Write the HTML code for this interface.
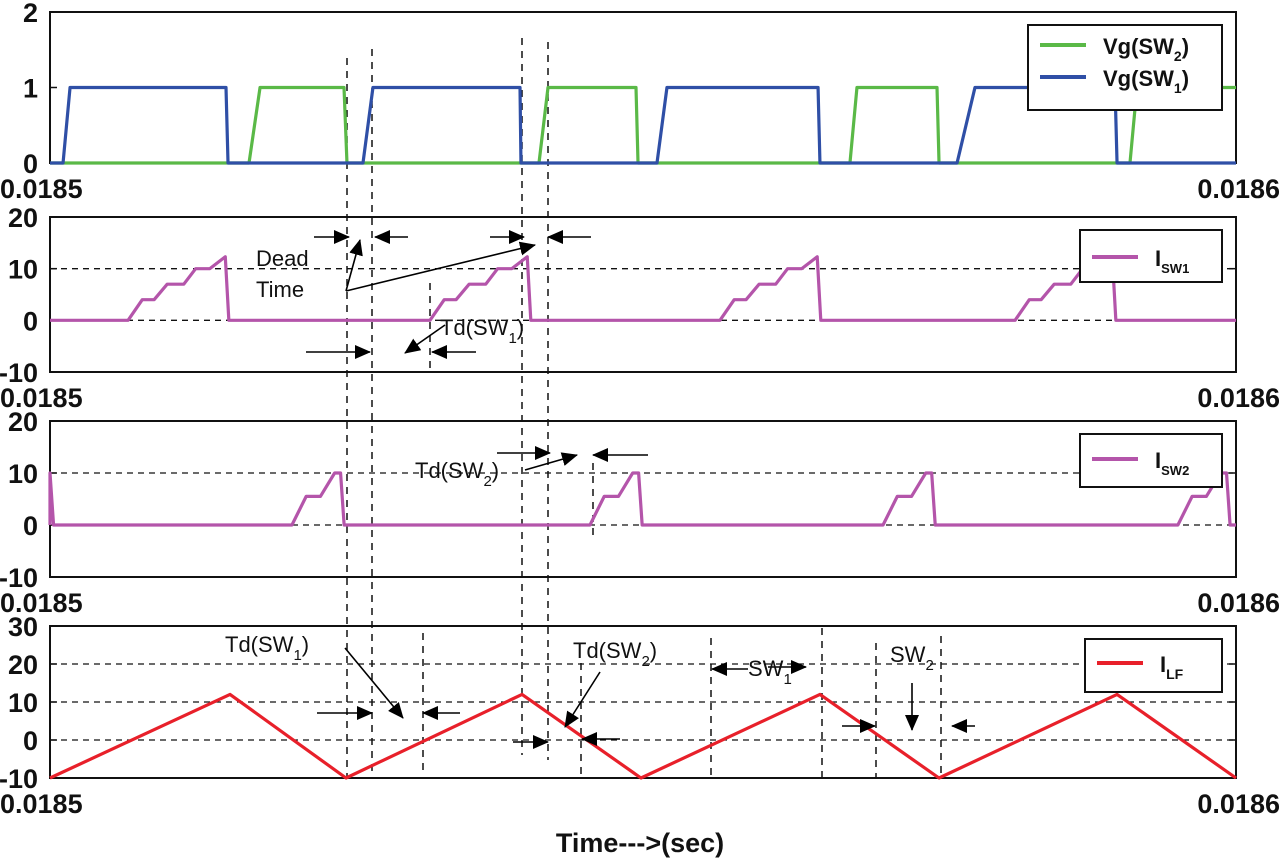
<!DOCTYPE html>
<html><head><meta charset="utf-8"><style>
html,body{margin:0;padding:0;background:#fff;width:1280px;height:862px;overflow:hidden}
svg text{font-family:"Liberation Sans",sans-serif}
.tk{font-size:27px;font-weight:bold;fill:#111}
.an{font-size:22px;fill:#111}
</style></head><body>
<svg id="chart" width="1280" height="862" viewBox="0 0 1280 862" xmlns="http://www.w3.org/2000/svg">
<defs><marker id="ah" markerWidth="8" markerHeight="8" refX="7" refY="4" orient="auto" markerUnits="userSpaceOnUse"><path d="M0,0 L8,4 L0,8 Z" fill="#000"/></marker>
<marker id="ab" markerWidth="16" markerHeight="14" refX="15" refY="7" orient="auto" markerUnits="userSpaceOnUse"><path d="M0,0 L16,7 L0,14 Z" fill="#000"/></marker></defs>
<g id="layer"></g>
</svg>
<script>
// time in microseconds offset from 0.0185 s (0..100)
const xTickLabels = ["0.0185","0.0186"];
const p1Ticks = [0,1,2];
const p2Ticks = [-10,0,10,20];
const p4Ticks = [-10,0,10,20,30];
const vgSw1T = [0,1.1,1.69,14.84,15.01,26.39,27.23,39.63,39.71,51.18,52.02,64.76,64.92,76.48,77.99,89.8,89.97,100];
const vgSw1V = [0,0,1,1,0,0,1,1,0,0,1,1,0,0,1,1,0,0];
const vgSw2T = [0,16.78,17.71,24.79,25.04,41.23,41.99,49.41,49.58,67.45,68.04,74.79,74.96,91.06,91.65,100];
const vgSw2V = [0,0,1,1,0,0,1,1,0,0,1,1,0,0,1,1];
const isw1ShapeT = [0,1.2,2.2,3.3,4.7,5.7,6.9,8.2,8.5];
const isw1ShapeV = [0,4,4,7,7,10,10,12.3,0];
const isw1Starts = [6.58,32.04,56.49,81.37];
const isw2ShapeT = [0,1.2,2.4,3.6,4.1,4.4];
const isw2ShapeV = [0,5.5,5.5,10,10,0];
const isw2Starts = [-4.1,20.4,45.53,70.24,95.1];
const ilfT = [0,15.18,24.96,39.8,49.83,64.92,74.96,89.97,100];
const ilfV = [-10,12,-10,12,-10,12,-10,12,-10];

const NS="http://www.w3.org/2000/svg";
const L=document.getElementById('layer');
const X0=50,X1=1236;
const xs=t=>X0+(t/100)*(X1-X0);
function el(tag,attrs,name,parent){const e=document.createElementNS(NS,tag);for(const k in attrs)e.setAttribute(k,attrs[k]);


(parent||L).appendChild(e);return e;}
function txt(x,y,s,cls,name,anchor){const e=el('text',{x:x,y:y,class:cls,'text-anchor':anchor||'start'},name);e.textContent=s;return e;}
const panels=[
 {top:12,bot:163,min:0,max:2,ticks:p1Ticks,grid:[]},
 {top:217,bot:372,min:-10,max:20,ticks:p2Ticks,grid:[0,10]},
 {top:421,bot:577,min:-10,max:20,ticks:p2Ticks,grid:[0,10]},
 {top:626,bot:778,min:-10,max:30,ticks:p4Ticks,grid:[0,10,20]}];
panels.forEach((p,i)=>{
 p.y=v=>p.bot-(v-p.min)/(p.max-p.min)*(p.bot-p.top);
 el('rect',{x:X0,y:p.top,width:X1-X0,height:p.bot-p.top,fill:'none',stroke:'#111','stroke-width':2},'panel-'+(i+1)+'-frame');
 p.grid.forEach(g=>el('line',{x1:X0,x2:X1,y1:p.y(g),y2:p.y(g),stroke:'#111','stroke-width':1.3,'stroke-dasharray':'6,5'},'grid-line'));
 p.ticks.forEach(t=>{const ty=p.y(t);
  el('line',{x1:X0,x2:X0+7,y1:ty,y2:ty,stroke:'#111','stroke-width':1.5},'y-tick');
  el('line',{x1:X1-7,x2:X1,y1:ty,y2:ty,stroke:'#111','stroke-width':1.5},'y-tick');
  txt(38,ty+10,String(t),'tk','y-tick-label','end');});
 txt(0,p.bot+35,xTickLabels[0],'tk','x-tick-label-start');
 txt(1280,p.bot+35,xTickLabels[1],'tk','x-tick-label-end','end');
});
function poly(T,V,p,color,name){const pts=T.map((t,k)=>xs(Math.max(0,Math.min(100,t)))+','+p.y(V[k])).join(' ');
 return el('polyline',{points:pts,fill:'none',stroke:color,'stroke-width':3.2,'stroke-linejoin':'round'},name);}
function pulses(starts,ST,SV){const T=[0],V=[0];starts.forEach(s=>{ST.forEach((d,k)=>{T.push(s+d);V.push(SV[k]);});});T.push(100);V.push(0);
 const TT=[],VV=[];for(let k=0;k<T.length;k++){if(T[k]<0){continue;}if(k>0&&T[k-1]<0&&T[k]>=0){TT.push(0);VV.push(V[k-1]+(V[k]-V[k-1])*(0-T[k-1])/(T[k]-T[k-1]));}
 if(T[k]>100){TT.push(100);VV.push(V[k-1]+(V[k]-V[k-1])*(100-T[k-1])/(T[k]-T[k-1]));break;}TT.push(T[k]);VV.push(V[k]);}
 return [TT,VV];}
// annotation vertical dashed lines
[[347,58,778],[372,49,778],[522,38,755],[548,42,760],[430,283,372],[593,463,540],[423,633,773],[581,663,775],[711,638,778],[822,628,778],[876,643,778],[941,636,778]].forEach(a=>
 el('line',{x1:a[0],x2:a[0],y1:a[1],y2:a[2],stroke:'#111','stroke-width':1.5,'stroke-dasharray':'7,6'},'marker-line'));
poly(vgSw2T,vgSw2V,panels[0],'#5ab947','vg-sw2-line');
poly(vgSw1T,vgSw1V,panels[0],'#2f4fa6','vg-sw1-line');
const a=pulses(isw1Starts,isw1ShapeT,isw1ShapeV);poly(a[0],a[1],panels[1],'#b455aa','isw1-line');
const b=pulses(isw2Starts,isw2ShapeT,isw2ShapeV);poly(b[0],b[1],panels[2],'#b455aa','isw2-line');
poly(ilfT,ilfV,panels[3],'#e8202a','ilf-line');
// arrows
function arr(x1,y1,x2,y2,big,name){el('line',{x1:x1,y1:y1,x2:x2,y2:y2,stroke:'#000','stroke-width':1.6,'marker-end':big?'url(#ab)':'url(#ah)'},name||'annotation-arrow');}
[[314,237,349,237],[408,237,375,237],[490,237,524,237],[591,237,548,237],[306,352,370,352],[476,352,432,352],[497,453,550,453],[648,455,593,455],
 [317,713,372,713],[460,713,423,713],[513,742,548,742],[620,739,582,739],[748,669,712,669],[768,667,806,667],[842,726,875,726],[975,726,952,726],[912,683,912,730]].forEach(r=>arr(r[0],r[1],r[2],r[3],true));
[[346,291,360,240],[346,291,535,245],[445,325,405,353],[525,470,577,455],[345,648,403,718],[600,672,565,727]].forEach(r=>arr(r[0],r[1],r[2],r[3],true));
txt(256,266,'Dead','an','dead-time-label');txt(256,297,'Time','an','dead-time-label');
function sub(x,y,pre,s,post,name){const t=txt(x,y,'','an',name);t.innerHTML=pre+'<tspan dy="8" font-size="15">'+s+'</tspan><tspan dy="-8">'+post+'</tspan>';}
sub(440,335,'Td(SW','1',')','td-sw1-label');
sub(415,478,'Td(SW','2',')','td-sw2-label');
sub(225,652,'Td(SW','1',')','td-sw1-label-ilf');
sub(573,658,'Td(SW','2',')','td-sw2-label-ilf');
sub(748,676,'SW','1','','sw1-label');
sub(890,662,'SW','2','','sw2-label');
// legends
function legend(x,y,w,h,items,name){const g=el('g',{},name);el('rect',{x:x,y:y,width:w,height:h,fill:'#fff',stroke:'#111','stroke-width':2},name+'-box',g);
 items.forEach(it=>{el('line',{x1:x+12,x2:x+58,y1:it[0],y2:it[0],stroke:it[1],'stroke-width':4},name+'-swatch',g);
 const t=el('text',{x:x+75,y:it[0]+9,class:'an','font-weight':'bold'},name+'-label',g);t.innerHTML=it[2];});}
legend(1028,25,194,85,[[45,'#5ab947','Vg(SW<tspan dy="7" font-size="14">2</tspan><tspan dy="-7">)</tspan>'],[77,'#2f4fa6','Vg(SW<tspan dy="7" font-size="14">1</tspan><tspan dy="-7">)</tspan>']],'legend-vg');
legend(1080,230,142,52,[[257,'#b455aa','I<tspan dy="7" font-size="13">SW1</tspan>']],'legend-isw1');
legend(1080,434,142,53,[[459,'#b455aa','I<tspan dy="7" font-size="13">SW2</tspan>']],'legend-isw2');
legend(1085,639,137,53,[[663,'#e8202a','I<tspan dy="7" font-size="14">LF</tspan>']],'legend-ilf');
txt(640,852,'Time--->(sec)','tk','x-axis-title','middle');
</script>
</body></html>
